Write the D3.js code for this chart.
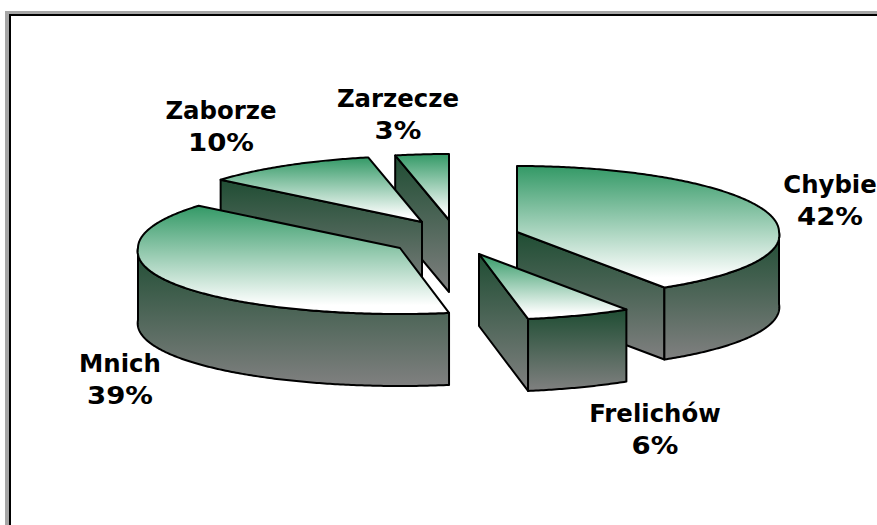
<!DOCTYPE html>
<html><head><meta charset="utf-8">
<script src="https://cdn.jsdelivr.net/npm/d3@7/dist/d3.min.js"></script>
<style>html,body{margin:0;padding:0;background:#fff;overflow:hidden}svg{display:block}</style>
</head><body><div id="chart"></div>
<script>
const categories = ["Chybie", "Frelichów", "Mnich", "Zaborze", "Zarzecze"];
const values = [41.6, 5.8, 39.4, 10.2, 3.0];
const percentLabels = ["42%", "6%", "39%", "10%", "3%"];

// layout only
const W = 877, H = 525;
const explodedCx = [517, 479, 400, 422, 449];
const explodedCy = [232, 254, 248, 222, 220];
const labelX = [830, 655, 120, 221, 398];
const labelY = [193, 422, 372, 119, 107];
const drawOrder = [4, 3, 2, 0, 1];
const RX = 262, RY = 66, DEPTH = 72, STRETCH = 1.1, FRONT_PERSPECTIVE = 0.05;
const LINE_GAP = 32, PERCENT_WIDEN = 1.13;

const x = d3.scaleLinear().domain([-1, 1]).range([-RX, RX]);
const y = d3.scaleLinear().domain([-1, 1]).range([-RY, RY]);

const svg = d3.select("#chart").append("svg").attr("width", W).attr("height", H);
const defs = svg.append("defs");
function grad(id, c1, c2, whiteAt) {
  const g = defs.append("linearGradient").attr("id", id).attr("x1", 0).attr("y1", 0).attr("x2", 0).attr("y2", 1);
  g.append("stop").attr("offset", "0%").attr("stop-color", c1);
  g.append("stop").attr("offset", whiteAt).attr("stop-color", c2);
}
grad("topG", "#339966", "#ffffff", "92%");
grad("sideG", "#1f4d33", "#808080", "100%");

svg.append("rect").attr("width", W).attr("height", H).attr("fill", "#fff");
// frame: grey outer + black inner on left and top
svg.append("rect").attr("x", 5).attr("y", 11).attr("width", W).attr("height", 3).attr("fill", "#a6a6a6");
svg.append("rect").attr("x", 5).attr("y", 11).attr("width", 4).attr("height", H).attr("fill", "#a6a6a6");
svg.append("rect").attr("x", 9).attr("y", 14).attr("width", W).attr("height", 2).attr("fill", "#000");
svg.append("rect").attr("x", 9).attr("y", 14).attr("width", 2).attr("height", H).attr("fill", "#000");

const pie = d3.pie().sort(null).value(d => d).startAngle(0).endAngle(2 * Math.PI);
const arcs = pie(values);

function warp(a) {
  let w = Math.atan2(STRETCH * Math.sin(a), Math.cos(a));
  return w + 2 * Math.PI * Math.round((a - w) / (2 * Math.PI));
}
const line = d3.line();
function rim(t, cx, cy, dz) {
  const persp = 1 + FRONT_PERSPECTIVE * Math.max(0, -Math.cos(t));
  return [cx + x(Math.sin(t) * persp), cy + y(-Math.cos(t)) + dz];
}
function rimPts(t0, t1, cx, cy, dz) {
  const n = Math.max(2, Math.ceil(Math.abs(t1 - t0) / 0.01));
  return d3.range(n + 1).map(i => rim(t0 + (t1 - t0) * i / n, cx, cy, dz));
}
function drawFace(pts, fill) {
  svg.append("path").attr("d", line(pts) + "Z").attr("fill", fill)
    .attr("stroke", "#000").attr("stroke-width", 2).attr("stroke-linejoin", "round");
}

drawOrder.forEach(i => {
  const cx = explodedCx[i], cy = explodedCy[i];
  const t0 = warp(arcs[i].startAngle), t1 = warp(arcs[i].endAngle);
  const apex = [cx, cy], apexB = [cx, cy + DEPTH];
  const p0 = rim(t0, cx, cy, 0), p1 = rim(t1, cx, cy, 0);
  const radial = (p) => [apex, p, [p[0], p[1] + DEPTH], apexB];

  // radial faces visible only when their outward side looks at the viewer
  if (t0 > Math.PI) drawFace(radial(p0), "url(#sideG)");
  if (t1 > Math.PI / 2 && t1 < Math.PI) drawFace(radial(p1), "url(#sideG)");

  // outer wall on the front half of the ellipse
  const a = Math.max(t0, Math.PI / 2), b = Math.min(t1, 3 * Math.PI / 2);
  if (b > a) {
    const upper = rimPts(a, b, cx, cy, 0);
    const lower = rimPts(b, a, cx, cy, DEPTH);
    drawFace(upper.concat(lower), "url(#sideG)");
  }
  // top
  drawFace([apex].concat(rimPts(t0, t1, cx, cy, 0)), "url(#topG)");
});

function label(str, px, py) {
  return svg.append("text").attr("text-anchor", "middle").attr("x", px).attr("y", py)
    .attr("font-family", "'DejaVu Sans', Verdana, sans-serif").attr("font-weight", "bold")
    .attr("font-size", 24.4).attr("fill", "#000").text(str);
}
categories.forEach((c, i) => {
  label(c, labelX[i], labelY[i]);
  const p = label(percentLabels[i], labelX[i], labelY[i] + LINE_GAP);
  p.attr("textLength", p.node().getComputedTextLength() * PERCENT_WIDEN).attr("lengthAdjust", "spacingAndGlyphs");
});
</script></body></html>
